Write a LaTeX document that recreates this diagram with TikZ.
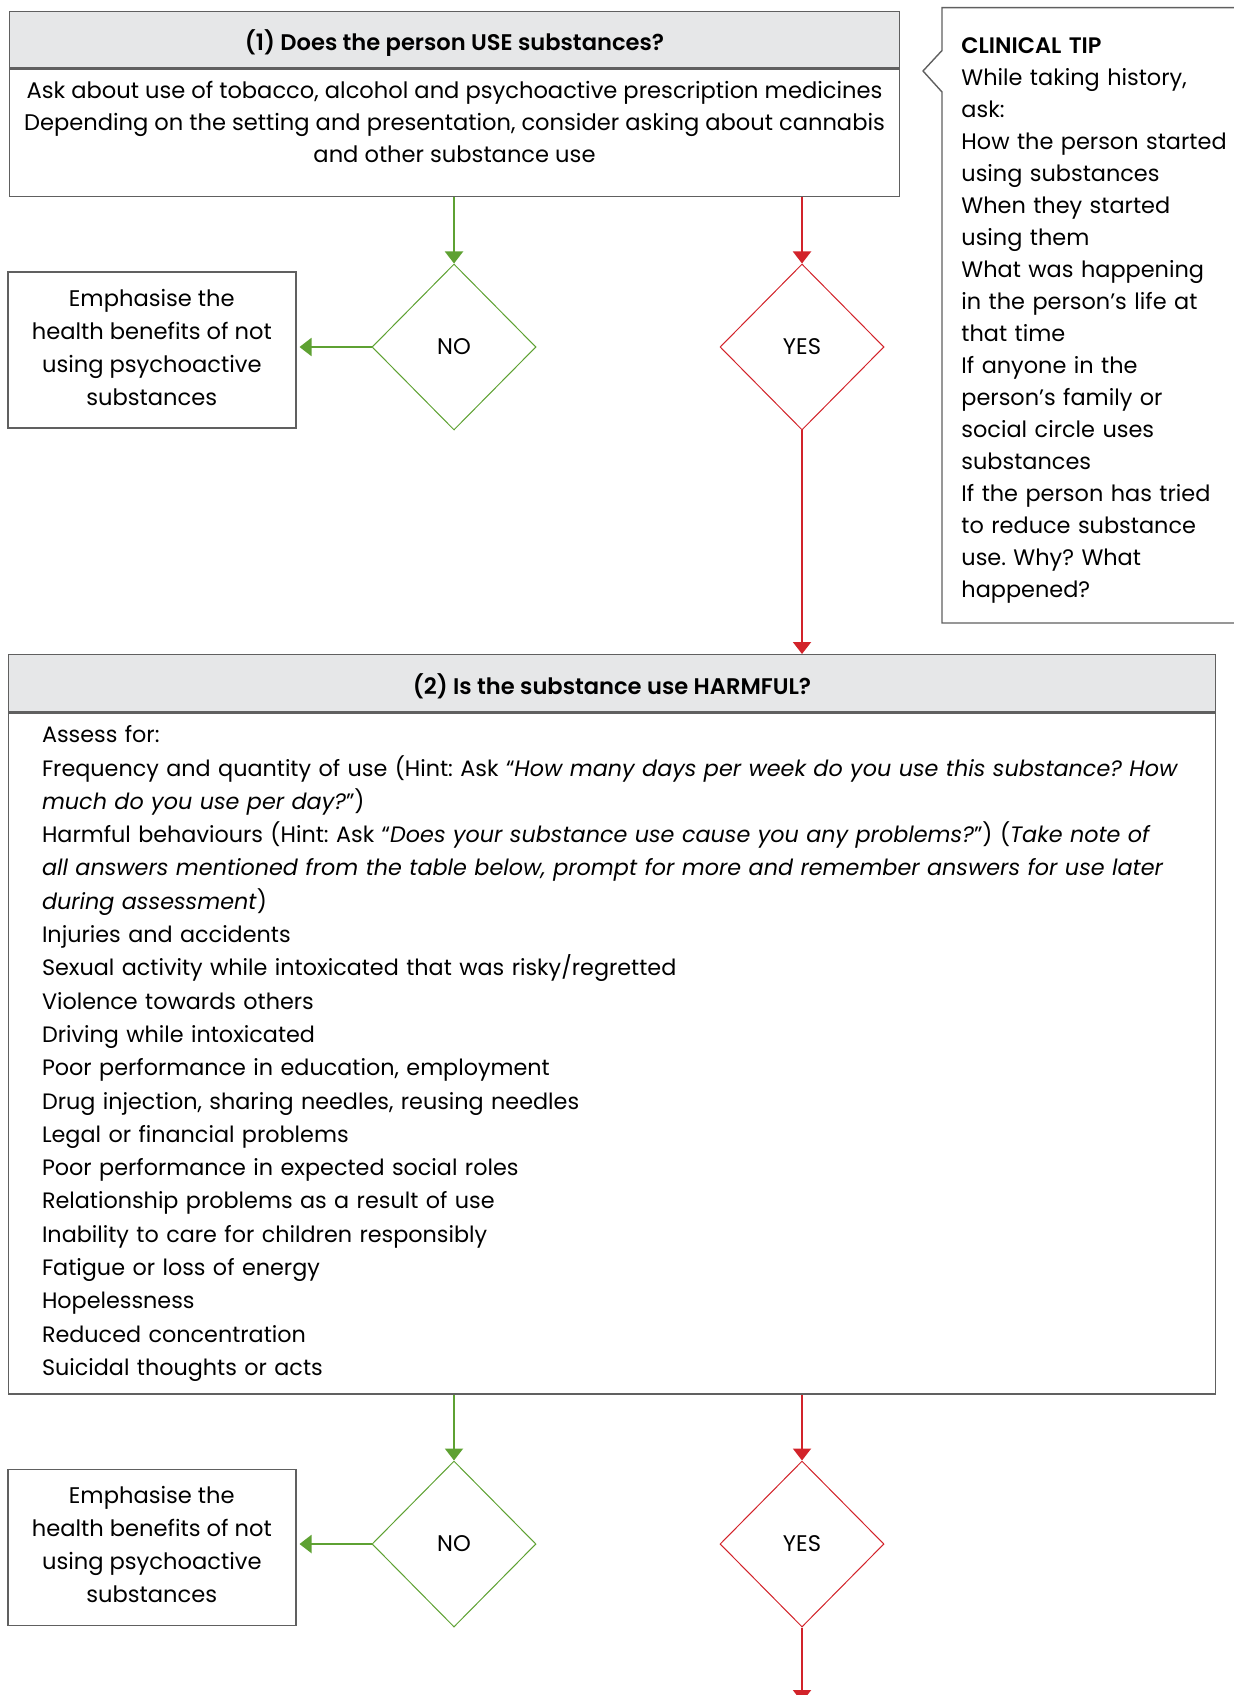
\documentclass[tikz,border=0pt]{standalone}
\usepackage{fontspec}
\setmainfont{Poppins}[BoldFont={Poppins SemiBold}]
\usepackage{xcolor}
\usetikzlibrary{arrows.meta,positioning,shapes.geometric}

\definecolor{yesred}{HTML}{D2232A}
\definecolor{nogreen}{HTML}{5EA132}
\definecolor{hdrgray}{HTML}{E6E7E8}
\definecolor{framegray}{HTML}{606060}

\begin{document}
\frenchspacing
\begin{tikzpicture}[
  x=0.5pt, y=-0.5pt,
  hdr/.style={draw=framegray, line width=0.7pt, fill=hdrgray, anchor=north west, inner sep=0pt, text height=11pt, text depth=0pt, font=\fontsize{11.3}{14}\selectfont\bfseries},
  panel/.style={draw=framegray, line width=0.7pt, fill=white, inner sep=0pt, font=\fontsize{11.3}{16}\selectfont},
  decide/.style={diamond, draw, line width=0.5pt, aspect=1, inner sep=0pt, minimum width=82pt, minimum height=83pt, font=\fontsize{11.3}{14}\selectfont},
  advice/.style={draw=framegray, line width=0.7pt, minimum width=144pt, minimum height=78pt, align=center, inner sep=0pt, yshift=-1.6pt, font=\fontsize{11.3}{16.5}\selectfont},
  flow/.style={line width=1pt, -{Triangle[width=9pt,length=6pt]}}
]
\useasboundingbox (0,0) rectangle (1233,1695);

% (1) use of substances
\node[hdr, minimum width=445.2pt, minimum height=28.1pt] (useq) at (8.6,10.8) {(1) Does the person USE substances?};
\node[panel, minimum width=445.2pt, minimum height=63.7pt, align=center, below=0pt of useq] (usebody) {Ask about use of tobacco, alcohol and psychoactive prescription medicines\\Depending on the setting and presentation, consider asking about cannabis\\and other substance use\\[-5.5pt]\mbox{}};

\node[decide, draw=nogreen] (useno) at (454,347) {NO};
\node[decide, draw=yesred] (useyes) at (802,347) {YES};
\node[advice, left=37.5pt of useno] (useadv) {Emphasise the\\health benefits of not\\using psychoactive\\substances\\[-13.3pt]\mbox{}};

% clinical tip
\draw[framegray, line width=0.7pt] (1240,7.6) -- (942,7.6) -- (942,50.5) -- (923,71) -- (942,92) -- (942,623) -- (1240,623);
\node[anchor=west, inner sep=0pt, text width=140pt, align=left, font=\fontsize{11.2}{16}\selectfont] (tip) at (961,320.5) {\textbf{CLINICAL TIP}\\While taking history,\\ask:\\How the person started\\using substances\\When they started\\using them\\What was happening\\in the person’s life at\\that time\\If anyone in the\\person’s family or\\social circle uses\\substances\\If the person has tried\\to reduce substance\\use. Why? What\\happened?};

% (2) harmful use
\node[hdr, minimum width=603.7pt, minimum height=28.5pt] (harmq) at (7.6,654) {(2) Is the substance use HARMFUL?};
\node[panel, minimum width=603.7pt, minimum height=340.5pt, text width=570pt, inner xsep=16.85pt, align=left, font=\fontsize{11.15}{16.65}\selectfont, below=0pt of harmq] (harmbody) {\rightskip=-20pt plus 1fil\relax Assess for:\\
Frequency and quantity of use (Hint: Ask “\textit{How many days per week do you use this substance? How}\\
\textit{much do you use per day?}”)\\
Harmful behaviours (Hint: Ask “\textit{Does your substance use cause you any problems?}”) (\textit{Take note of}\\
\textit{all answers mentioned from the table below, prompt for more and remember answers for use later}\\
\textit{during assessment})\\
Injuries and accidents\\
Sexual activity while intoxicated that was risky/regretted\\
Violence towards others\\
Driving while intoxicated\\
Poor performance in education, employment\\
Drug injection, sharing needles, reusing needles\\
Legal or financial problems\\
Poor performance in expected social roles\\
Relationship problems as a result of use\\
Inability to care for children responsibly\\
Fatigue or loss of energy\\
Hopelessness\\
Reduced concentration\\
Suicidal thoughts or acts};

\node[decide, draw=nogreen] (harmno) at (454,1544) {NO};
\node[decide, draw=yesred] (harmyes) at (802,1544) {YES};
\node[advice, left=37.5pt of harmno] (harmadv) {Emphasise the\\health benefits of not\\using psychoactive\\substances\\[-13.3pt]\mbox{}};
\coordinate (nextstep) at (802,1702);

% connectors
\foreach \a/\b in {usebody/useno,harmbody/harmno} \draw[flow, nogreen] (\a.south -| \b) -- (\b.north);
\foreach \a/\b in {usebody/useyes,harmbody/harmyes} \draw[flow, yesred] (\a.south -| \b) -- (\b.north);
\foreach \a/\b in {useno/useadv,harmno/harmadv} \draw[flow, nogreen, shorten >=1.5pt] (\a.west) -- (\a.west -| \b.east);
\draw[flow, yesred] (useyes.south) -- (useyes.south |- harmq.north);
\draw[flow, yesred] (harmyes.south) -- (nextstep);
\end{tikzpicture}
\end{document}
